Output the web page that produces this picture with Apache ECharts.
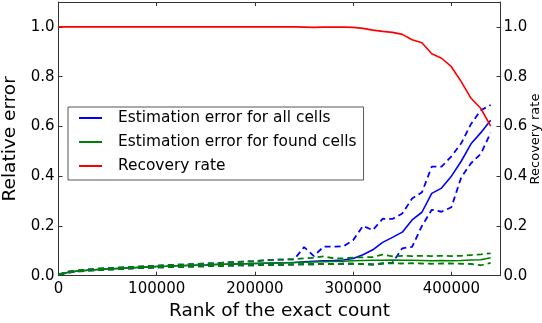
<!DOCTYPE html>
<html>
<head>
<meta charset="utf-8">
<script src="https://cdn.jsdelivr.net/npm/echarts@6/dist/echarts.min.js"></script>
<style>
  html, body { margin: 0; padding: 0; background: #fff; }
  #chart { width: 542px; height: 323px; }
</style>
</head>
<body>
<div id="chart"></div>
<script>
// Rank of the exact count (x positions of the samples)
const ranks = [0, 10000, 20000, 30000, 40000, 50000, 60000, 70000, 80000, 90000,
  100000, 110000, 120000, 130000, 140000, 150000, 160000, 170000, 180000, 190000,
  200000, 210000, 220000, 230000, 240000, 250000, 260000, 270000, 280000, 290000,
  300000, 310000, 320000, 330000, 340000, 350000, 360000, 370000, 380000, 390000,
  400000, 410000, 420000, 430000, 440000];

// Estimation error for all cells: mean and the band around it
const allMean = [0.004, 0.014, 0.019, 0.022, 0.025, 0.027, 0.029, 0.031, 0.033, 0.035,
  0.037, 0.038, 0.040, 0.041, 0.042, 0.043, 0.045, 0.046, 0.047, 0.048,
  0.049, 0.050, 0.051, 0.052, 0.053, 0.056, 0.058, 0.060, 0.061, 0.063,
  0.069, 0.084, 0.104, 0.134, 0.154, 0.175, 0.224, 0.255, 0.331, 0.352,
  0.400, 0.460, 0.530, 0.575, 0.625];
const allUpper = [0.005, 0.016, 0.021, 0.025, 0.028, 0.030, 0.032, 0.034, 0.036, 0.038,
  0.040, 0.042, 0.044, 0.045, 0.047, 0.049, 0.050, 0.053, 0.055, 0.057,
  0.058, 0.062, 0.064, 0.065, 0.066, 0.115, 0.079, 0.117, 0.117, 0.118,
  0.143, 0.200, 0.183, 0.229, 0.228, 0.250, 0.310, 0.335, 0.438, 0.438,
  0.480, 0.532, 0.610, 0.665, 0.686];
const allLower = [0.003, 0.012, 0.017, 0.020, 0.022, 0.024, 0.026, 0.028, 0.030, 0.031,
  0.033, 0.034, 0.035, 0.036, 0.037, 0.038, 0.039, 0.040, 0.041, 0.042,
  0.042, 0.043, 0.044, 0.044, 0.045, 0.046, 0.046, 0.047, 0.047, 0.048,
  0.048, 0.047, 0.045, 0.049, 0.052, 0.110, 0.116, 0.200, 0.265, 0.257,
  0.275, 0.395, 0.452, 0.490, 0.575];

// Estimation error for found cells: mean and band
const foundMean = [0.004, 0.014, 0.019, 0.022, 0.025, 0.027, 0.029, 0.031, 0.033, 0.035,
  0.037, 0.038, 0.040, 0.041, 0.042, 0.043, 0.045, 0.046, 0.047, 0.048,
  0.049, 0.050, 0.051, 0.052, 0.053, 0.054, 0.055, 0.056, 0.057, 0.058,
  0.060, 0.061, 0.062, 0.062, 0.063, 0.062, 0.062, 0.061, 0.060, 0.061,
  0.060, 0.061, 0.063, 0.064, 0.072];
const foundUpper = [0.005, 0.016, 0.021, 0.025, 0.028, 0.030, 0.032, 0.034, 0.036, 0.038,
  0.040, 0.042, 0.044, 0.045, 0.047, 0.049, 0.050, 0.053, 0.055, 0.057,
  0.058, 0.062, 0.064, 0.065, 0.066, 0.070, 0.072, 0.078, 0.070, 0.070,
  0.073, 0.074, 0.075, 0.085, 0.078, 0.080, 0.079, 0.080, 0.079, 0.080,
  0.079, 0.080, 0.083, 0.086, 0.090];
const foundLower = [0.003, 0.012, 0.017, 0.020, 0.022, 0.024, 0.026, 0.028, 0.030, 0.031,
  0.033, 0.034, 0.035, 0.036, 0.037, 0.038, 0.039, 0.040, 0.041, 0.042,
  0.042, 0.043, 0.044, 0.044, 0.045, 0.046, 0.046, 0.047, 0.047, 0.048,
  0.048, 0.047, 0.045, 0.049, 0.050, 0.049, 0.050, 0.049, 0.048, 0.049,
  0.049, 0.048, 0.047, 0.042, 0.052];

// Recovery rate (right axis)
const recovery = [1.0, 1.0, 1.0, 1.0, 1.0, 1.0, 1.0, 1.0, 1.0, 1.0,
  1.0, 1.0, 1.0, 1.0, 1.0, 1.0, 1.0, 1.0, 1.0, 1.0,
  1.0, 1.0, 1.0, 1.0, 1.0, 0.999, 0.998, 0.999, 0.999, 0.999,
  0.998, 0.994, 0.987, 0.982, 0.978, 0.970, 0.948, 0.936, 0.892, 0.874,
  0.840, 0.780, 0.713, 0.672, 0.601];

const xTicks = { min: 0, max: 450000, interval: 100000 };
const yTicks = { min: 0, max: 1.1, interval: 0.2 };

const FONT = 'DejaVu Sans';
const frame = '#333';

function pairs(ys) { return ranks.map((x, i) => [x, ys[i]]); }

function line(name, ys, color, dashed, yAxisIndex) {
  return {
    name: name,
    type: 'line',
    yAxisIndex: yAxisIndex || 0,
    data: pairs(ys),
    showSymbol: false,
    symbol: 'none',
    silent: true,
    animation: false,
    lineStyle: { color: color, width: dashed ? 1.8 : 1.6, type: dashed ? [6, 4] : 'solid' },
    itemStyle: { color: color }
  };
}

const chart = echarts.init(document.getElementById('chart'), null, { renderer: 'canvas' });

const tickStyle = { show: true, inside: true, length: 4, lineStyle: { color: frame, width: 1 } };
const lineAxis = { show: true, onZero: false, lineStyle: { color: frame, width: 1 } };

chart.setOption({
  animation: false,
  textStyle: { fontFamily: FONT },
  grid: { left: 58.5, right: 41.5, top: 2, bottom: 47.3, containLabel: false, outerBoundsMode: 'none' },
  legend: {
    orient: 'vertical',
    left: 68,
    top: 107,
    padding: [3, 7, 6, 11],
    itemGap: 8,
    itemWidth: 23,
    itemHeight: 2,
    icon: 'rect',
    backgroundColor: '#fff',
    borderColor: '#555',
    borderWidth: 1,
    borderRadius: 0,
    data: ['Estimation error for all cells', 'Estimation error for found cells', 'Recovery rate'],
    textStyle: { fontFamily: FONT, fontSize: 15.4, color: '#000', lineHeight: 16, padding: [0, 0, 0, 11] }
  },
  // title of the right-hand axis, set beside the tick labels
  graphic: [
    {
      type: 'text',
      x: 536,
      y: 139,
      rotation: Math.PI / 2,
      silent: true,
      style: {
        text: 'Recovery rate',
        font: '13px "DejaVu Sans"',
        fill: '#000',
        align: 'center',
        verticalAlign: 'middle'
      }
    }
  ],
  xAxis: [
    {
      type: 'value', position: 'bottom',
      min: xTicks.min, max: xTicks.max, interval: xTicks.interval,
      name: 'Rank of the exact count', nameLocation: 'middle', nameGap: 22,
      nameTextStyle: { fontFamily: FONT, fontSize: 18.5, color: '#000' },
      axisLine: lineAxis, axisTick: tickStyle, splitLine: { show: false },
      axisLabel: {
        fontFamily: FONT, fontSize: 15, color: '#000', margin: 6,
        formatter: v => (v > 440000 ? '' : String(v))
      }
    },
    {
      type: 'value', position: 'top',
      min: xTicks.min, max: xTicks.max, interval: xTicks.interval,
      axisLine: lineAxis, axisTick: tickStyle, splitLine: { show: false },
      axisLabel: { show: false }
    }
  ],
  yAxis: [
    {
      type: 'value', position: 'left',
      min: yTicks.min, max: yTicks.max, interval: yTicks.interval,
      name: 'Relative error', nameLocation: 'middle', nameGap: 30, nameRotate: 90,
      nameTextStyle: { fontFamily: FONT, fontSize: 18.5, color: '#000' },
      axisLine: lineAxis, axisTick: tickStyle, splitLine: { show: false },
      axisLabel: {
        fontFamily: FONT, fontSize: 15, color: '#000', margin: 4,
        formatter: v => (v > 1.05 ? '' : v.toFixed(1))
      }
    },
    {
      type: 'value', position: 'right',
      min: yTicks.min, max: yTicks.max, interval: yTicks.interval,
      axisLine: lineAxis, axisTick: tickStyle, splitLine: { show: false },
      axisLabel: {
        fontFamily: FONT, fontSize: 15, color: '#000', margin: 3,
        formatter: v => (v > 1.05 ? '' : v.toFixed(1))
      }
    }
  ],
  series: [
    line('all-lower', allLower, '#0000ff', true),
    line('all-upper', allUpper, '#0000ff', true),
    line('Estimation error for all cells', allMean, '#0000ff', false),
    line('found-lower', foundLower, '#008000', true),
    line('found-upper', foundUpper, '#008000', true),
    line('Estimation error for found cells', foundMean, '#008000', false),
    line('Recovery rate', recovery, '#ff0000', false, 1)
  ]
});
</script>
</body>
</html>
